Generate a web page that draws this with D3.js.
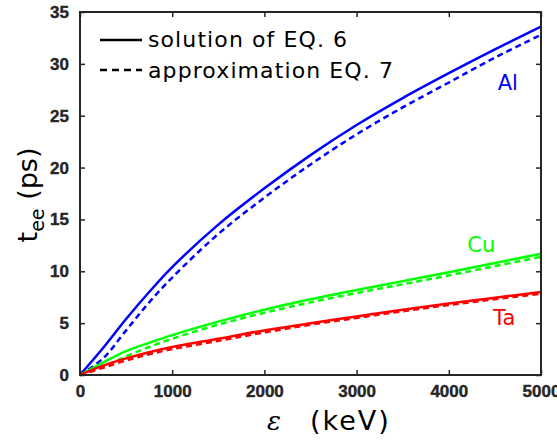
<!DOCTYPE html>
<html>
<head>
<meta charset="utf-8">
<script src="https://cdn.jsdelivr.net/npm/d3@7"></script>
<style>
body { margin: 0; background: #fff; }
svg { display: block; }
</style>
</head>
<body>
<div id="chart"></div>
<script>
var energy = [0, 250, 500, 750, 1000, 1500, 2000, 2500, 3000, 3500, 4000, 4500, 5000]

// t_ee (ps), solid = solution of EQ. 6, dashed = approximation EQ. 7
var alSolid  = [0, 2.6, 5.4, 8.0, 10.4, 14.5, 18.0, 21.2, 24.1, 26.7, 29.1, 31.4, 33.6]
var alDashed = [0, 1.6, 4.3, 7.0, 9.4, 13.6, 17.1, 20.3, 23.2, 25.8, 28.2, 30.6, 32.8]
var cuSolid  = [0, 1.2, 2.3, 3.1, 3.85, 5.15, 6.3, 7.3, 8.2, 9.05, 9.9, 10.8, 11.7]
var cuDashed = [0, 0.8, 1.8, 2.7, 3.5, 4.85, 6.0, 7.0, 7.9, 8.75, 9.6, 10.5, 11.4]
var taSolid  = [0, 0.9, 1.6, 2.2, 2.7, 3.5, 4.3, 5.0, 5.65, 6.3, 6.9, 7.45, 8.0]
var taDashed = [0, 0.7, 1.4, 2.0, 2.5, 3.3, 4.1, 4.85, 5.5, 6.15, 6.75, 7.3, 7.85]

var xTicks = [0, 1000, 2000, 3000, 4000, 5000]
var yTicks = [0, 5, 10, 15, 20, 25, 30, 35]

var materials = ['Al', 'Cu', 'Ta']
var colors = ['#0000ff', '#00ff00', '#ff0000']
var legendLabels = ['solution of EQ. 6', 'approximation EQ. 7']

var series = [
	{name: 'Al', values: alSolid, dashed: false},
	{name: 'Al', values: alDashed, dashed: true},
	{name: 'Cu', values: cuSolid, dashed: false},
	{name: 'Cu', values: cuDashed, dashed: true},
	{name: 'Ta', values: taSolid, dashed: false},
	{name: 'Ta', values: taDashed, dashed: true}
]

var margin = {left: 80, right: 16, top: 12, bottom: 67}
var width = 557 - margin.left - margin.right
var height = 442 - margin.top - margin.bottom
var axisColor = '#262626'

var svg = d3.select('#chart').append('svg')
	.attr('width', 557)
	.attr('height', 442)

var g = svg.append('g')
	.attr('transform', 'translate(' + margin.left + ',' + margin.top + ')')

var x = d3.scaleLinear().domain([0, 5000]).range([0, width])
var y = d3.scaleLinear().domain([0, 35]).range([height, 0])
var color = d3.scaleOrdinal().domain(materials).range(colors)

// curves
var line = d3.line()
	.x(function(d){ return x(d[0]) })
	.y(function(d){ return y(d[1]) })
	.curve(d3.curveCatmullRom.alpha(0.5))

g.selectAll('path.curve')
	.data(series)
	.enter()
	.append('path')
	.attr('class', 'curve')
	.attr('d', function(s){ return line(energy.map(function(e, i){ return [e, s.values[i]] })) })
	.attr('fill', 'none')
	.attr('stroke', function(s){ return color(s.name) })
	.attr('stroke-width', 2.5)
	.attr('stroke-dasharray', function(s){ return s.dashed ? '6,4' : null })

// axes, ticks pointing inward on all four sides
function styleAxis(sel){
	sel.select('.domain').remove()
	sel.selectAll('line').attr('stroke', axisColor).attr('stroke-width', 1.5)
	sel.selectAll('text')
		.attr('fill', axisColor)
		.attr('stroke', axisColor)
		.attr('stroke-width', 0.4)
		.style('font-family', '"Liberation Sans", Arial, sans-serif')
		.style('font-weight', '700')
		.style('font-size', '17px')
}

g.append('g')
	.attr('transform', 'translate(0,' + height + ')')
	.call(d3.axisBottom(x).tickValues(xTicks).tickSize(-5).tickPadding(10).tickFormat(d3.format('d')))
	.call(styleAxis)

g.append('g')
	.call(d3.axisLeft(y).tickValues(yTicks).tickSize(-5).tickPadding(11))
	.call(styleAxis)

g.append('g')
	.call(d3.axisTop(x).tickValues(xTicks).tickSize(-5).tickFormat(''))
	.call(styleAxis)

g.append('g')
	.attr('transform', 'translate(' + width + ',0)')
	.call(d3.axisRight(y).tickValues(yTicks).tickSize(-5).tickFormat(''))
	.call(styleAxis)

g.append('rect')
	.attr('width', width)
	.attr('height', height)
	.attr('fill', 'none')
	.attr('stroke', axisColor)
	.attr('stroke-width', 2)

// material labels
var labelPos = {Al: [4530, 27.5], Cu: [4200, 11.85], Ta: [4480, 4.8]}
g.selectAll('text.mat')
	.data(materials)
	.enter()
	.append('text')
	.attr('class', 'mat')
	.attr('x', function(d){ return x(labelPos[d][0]) })
	.attr('y', function(d){ return y(labelPos[d][1]) })
	.attr('fill', function(d){ return color(d) })
	.attr('font-family', 'DejaVu Sans, sans-serif')
	.attr('font-size', '21px')
	.text(function(d){ return d })

// legend
var legend = g.append('g').attr('transform', 'translate(20,28)')
legend.selectAll('line')
	.data(legendLabels)
	.enter()
	.append('line')
	.attr('x1', 0)
	.attr('x2', 42)
	.attr('y1', function(d, i){ return i * 30 })
	.attr('y2', function(d, i){ return i * 30 })
	.attr('stroke', '#000')
	.attr('stroke-width', 2.5)
	.attr('stroke-dasharray', function(d, i){ return i == 1 ? '7,5' : null })
legend.selectAll('text')
	.data(legendLabels)
	.enter()
	.append('text')
	.attr('x', 48)
	.attr('y', function(d, i){ return i * 31 + 7 })
	.attr('font-family', 'DejaVu Sans, sans-serif')
	.attr('font-size', '22px')
	.attr('letter-spacing', '1.1px')
	.attr('fill', '#000')
	.text(function(d){ return d })

// axis titles
var yTitle = svg.append('text')
	.attr('transform', 'translate(37,195) rotate(-90)')
	.attr('text-anchor', 'middle')
	.attr('font-family', 'DejaVu Sans, sans-serif')
	.attr('font-size', '27px')
	.attr('fill', '#000')
yTitle.append('tspan').text('t')
yTitle.append('tspan').attr('font-size', '19px').attr('dy', 7).text('ee')
yTitle.append('tspan').attr('dy', -7).text(' (ps)')

svg.append('text')
	.attr('x', 267)
	.attr('y', 430)
	.attr('font-family', 'DejaVu Serif, serif')
	.attr('font-style', 'italic')
	.attr('font-size', '26px')
	.attr('fill', '#000')
	.text('ε')

svg.append('text')
	.attr('x', 310)
	.attr('y', 430)
	.attr('font-family', 'DejaVu Sans, sans-serif')
	.attr('font-size', '27px')
	.attr('letter-spacing', '2px')
	.attr('fill', '#000')
	.text('(keV)')
</script>
</body>
</html>
